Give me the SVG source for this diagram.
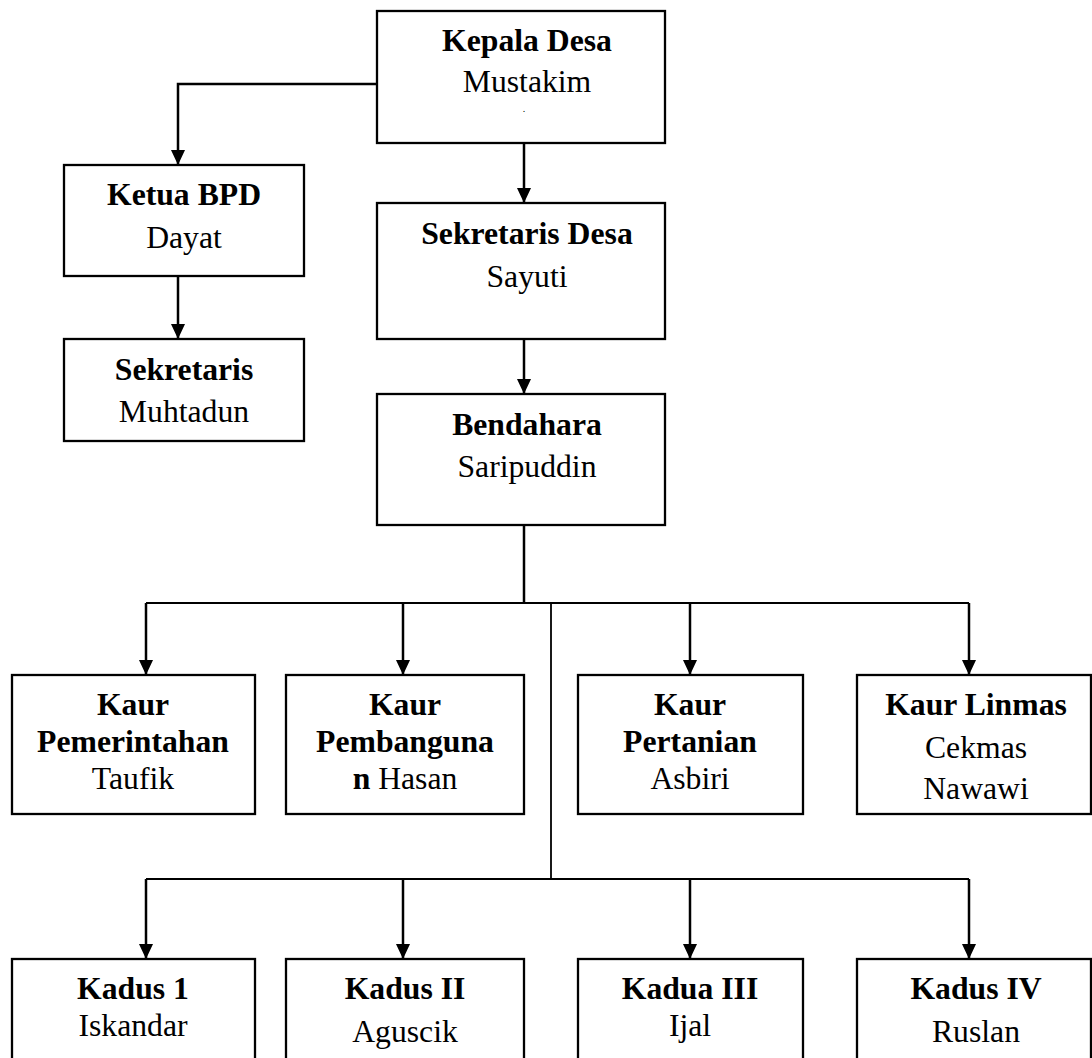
<svg xmlns="http://www.w3.org/2000/svg" width="1092" height="1058" viewBox="0 0 1092 1058">
<style>
.box{fill:#fff;stroke:#000;stroke-width:2.3}
.t{font-family:"Liberation Serif","Times New Roman",serif;font-size:31.7px;fill:#000;text-anchor:middle}
.b{font-weight:bold}
.c{fill:none;stroke:#000;stroke-width:2.5}
.c2{fill:none;stroke:#000;stroke-width:1.8}
</style>
<defs>
<marker id="arr" viewBox="0 0 15 14" refX="15" refY="7" markerWidth="15" markerHeight="14" markerUnits="userSpaceOnUse" orient="auto">
<path d="M0,0 L15,7 L0,14 z" fill="#000"/>
</marker>
</defs>
<rect width="1092" height="1058" fill="#fff"/>
<g id="connectors">
<path class="c" d="M377,84 H178 V165" marker-end="url(#arr)"/>
<path class="c" d="M524,143 V203" marker-end="url(#arr)"/>
<path class="c" d="M178,276 V339" marker-end="url(#arr)"/>
<path class="c" d="M524,339 V394" marker-end="url(#arr)"/>
<path class="c" d="M524,525 V603"/>
<path class="c2" d="M146,603 H969"/>
<path class="c" d="M146,603 V675" marker-end="url(#arr)"/>
<path class="c" d="M403,603 V675" marker-end="url(#arr)"/>
<path class="c" d="M690,603 V675" marker-end="url(#arr)"/>
<path class="c" d="M969,603 V675" marker-end="url(#arr)"/>
<path class="c2" d="M551,603 V879"/>
<path class="c2" d="M146,879 H969"/>
<path class="c" d="M146,879 V959" marker-end="url(#arr)"/>
<path class="c" d="M403,879 V959" marker-end="url(#arr)"/>
<path class="c" d="M690,879 V959" marker-end="url(#arr)"/>
<path class="c" d="M969,879 V959" marker-end="url(#arr)"/>
</g>
<g id="kepala-desa">
<rect class="box" x="377" y="11" width="288" height="132"/>
<text class="t b" x="527" y="51">Kepala Desa</text>
<text class="t" x="527" y="92">Mustakim</text>
<text class="t" x="524" y="112" style="font-size:10px">.</text>
</g>
<g id="ketua-bpd">
<rect class="box" x="64" y="165" width="240" height="111"/>
<text class="t b" x="184" y="205">Ketua BPD</text>
<text class="t" x="184" y="248">Dayat</text>
</g>
<g id="sekretaris">
<rect class="box" x="64" y="339" width="240" height="102"/>
<text class="t b" x="184" y="380">Sekretaris</text>
<text class="t" x="184" y="422">Muhtadun</text>
</g>
<g id="sekretaris-desa">
<rect class="box" x="377" y="203" width="288" height="136"/>
<text class="t b" x="527" y="244">Sekretaris Desa</text>
<text class="t" x="527" y="287">Sayuti</text>
</g>
<g id="bendahara">
<rect class="box" x="377" y="394" width="288" height="131"/>
<text class="t b" x="527" y="435">Bendahara</text>
<text class="t" x="527" y="477">Saripuddin</text>
</g>
<g id="kaur-pemerintahan">
<rect class="box" x="12" y="675" width="243" height="139"/>
<text class="t b" x="133" y="715">Kaur</text>
<text class="t b" x="133" y="752">Pemerintahan</text>
<text class="t" x="133" y="789">Taufik</text>
</g>
<g id="kaur-pembangunan">
<rect class="box" x="286" y="675" width="238" height="139"/>
<text class="t b" x="405" y="715">Kaur</text>
<text class="t b" x="405" y="752">Pembanguna</text>
<text class="t" x="405" y="789"><tspan class="b">n</tspan> Hasan</text>
</g>
<g id="kaur-pertanian">
<rect class="box" x="578" y="675" width="225" height="139"/>
<text class="t b" x="690" y="715">Kaur</text>
<text class="t b" x="690" y="752">Pertanian</text>
<text class="t" x="690" y="789">Asbiri</text>
</g>
<g id="kaur-linmas">
<rect class="box" x="857" y="675" width="234" height="139"/>
<text class="t b" x="976" y="715">Kaur Linmas</text>
<text class="t" x="976" y="758">Cekmas</text>
<text class="t" x="976" y="799">Nawawi</text>
</g>
<g id="kadus-1">
<rect class="box" x="12" y="959" width="243" height="120"/>
<text class="t b" x="133" y="999">Kadus 1</text>
<text class="t" x="133" y="1036">Iskandar</text>
</g>
<g id="kadus-2">
<rect class="box" x="286" y="959" width="238" height="120"/>
<text class="t b" x="405" y="999">Kadus II</text>
<text class="t" x="405" y="1042">Aguscik</text>
</g>
<g id="kadus-3">
<rect class="box" x="578" y="959" width="225" height="120"/>
<text class="t b" x="690" y="999">Kadua III</text>
<text class="t" x="690" y="1036">Ijal</text>
</g>
<g id="kadus-4">
<rect class="box" x="857" y="959" width="234" height="120"/>
<text class="t b" x="976" y="999">Kadus IV</text>
<text class="t" x="976" y="1042">Ruslan</text>
</g>
</svg>
